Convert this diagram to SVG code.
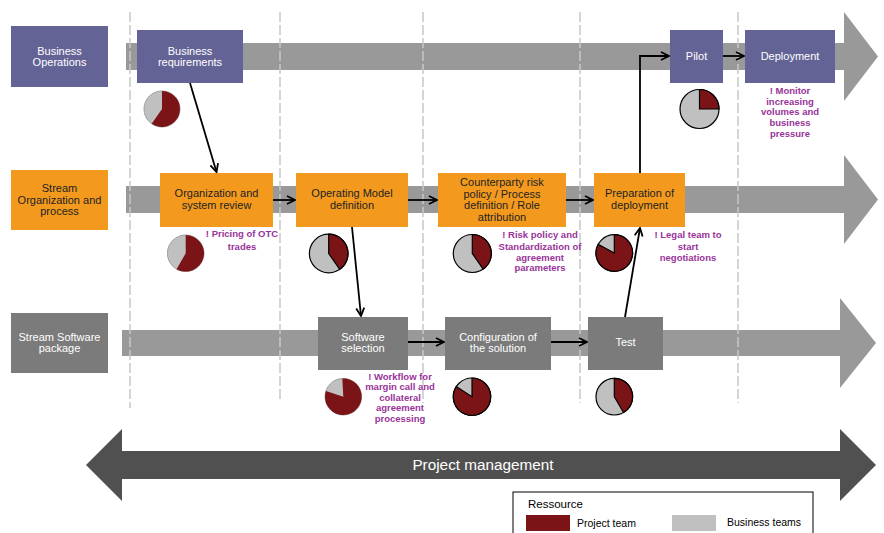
<svg xmlns="http://www.w3.org/2000/svg" width="884" height="533" viewBox="0 0 884 533">
<defs>
<style>
.band{fill:#999999}
.grid{stroke:#c8c8c8;stroke-width:1.5;stroke-dasharray:10,3;fill:none}
.pu{fill:#646395}
.or{fill:#F39A1E}
.gr{fill:#7B7B7B}
.lw{font-family:"Liberation Sans",Arial,sans-serif;font-size:11px;fill:#ffffff;text-anchor:middle}
.ld{font-family:"Liberation Sans",Arial,sans-serif;font-size:11px;fill:#222222;text-anchor:middle}
.note{font-family:"Liberation Sans",Arial,sans-serif;font-size:9.5px;font-weight:bold;fill:#993399;text-anchor:middle}
.pg{fill:#C0C0C0}
.pr{fill:#7B1416}
.pb{stroke:#000;stroke-width:1.2}
.ps{stroke:#a0a0a0;stroke-width:1}
.conn{fill:none;stroke:#000;stroke-width:1.8}
.leg{font-family:"Liberation Sans",Arial,sans-serif;fill:#000}
</style>
<marker id="ah" viewBox="0 0 10 10" refX="9" refY="5" markerWidth="10" markerHeight="10" markerUnits="userSpaceOnUse" orient="auto">
<path d="M1,1 L9,5 L1,9" fill="none" stroke="#000" stroke-width="1.8"/>
</marker>
</defs>

<g id="bands">
<polygon class="band" points="126,43 844,43 844,12 878,56.5 844,101 844,70 126,70"/>
<polygon class="band" points="126,186 844,186 844,155 878,199.5 844,244 844,213 126,213"/>
<polygon class="band" points="122,330 840,330 840,298 876,343 840,388 840,356 122,356"/>
</g>

<g id="gridlines">
<line class="grid" x1="130" y1="12" x2="130" y2="408"/>
<line class="grid" x1="280" y1="12" x2="280" y2="400"/>
<line class="grid" x1="423" y1="12" x2="423" y2="403"/>
<line class="grid" x1="580" y1="12" x2="580" y2="403"/>
<line class="grid" x1="738" y1="12" x2="738" y2="403"/>
</g>

<g id="project-management">
<polygon fill="#505050" points="86,465 122,429 122,451 840,451 840,429 876,465 840,501 840,479 122,479 122,501"/>
<text x="483" y="470" font-family="Liberation Sans, Arial, sans-serif" font-size="15.3" fill="#ffffff" text-anchor="middle">Project management</text>
</g>

<g id="row-business-operations">
<rect class="pu" x="11" y="26" width="97" height="61"/>
<text class="lw" x="59.5" y="55">Business</text>
<text class="lw" x="59.5" y="66">Operations</text>
</g>
<g id="business-requirements">
<rect class="pu" x="137" y="30" width="106" height="53"/>
<text class="lw" x="190" y="55">Business</text>
<text class="lw" x="190" y="66">requirements</text>
</g>
<g id="pilot">
<rect class="pu" x="670" y="30" width="53" height="53"/>
<text class="lw" x="696.5" y="60">Pilot</text>
</g>
<g id="deployment">
<rect class="pu" x="745" y="30" width="90" height="53"/>
<text class="lw" x="790" y="60">Deployment</text>
</g>

<g id="row-stream-organization">
<rect class="or" x="11" y="170" width="97" height="60"/>
<text class="ld" x="59.5" y="192">Stream</text>
<text class="ld" x="59.5" y="203.5">Organization and</text>
<text class="ld" x="59.5" y="215">process</text>
</g>
<g id="organization-review">
<rect class="or" x="160" y="173" width="113" height="54"/>
<text class="ld" x="216.5" y="197">Organization and</text>
<text class="ld" x="216.5" y="209">system review</text>
</g>
<g id="operating-model">
<rect class="or" x="296" y="173" width="112" height="54"/>
<text class="ld" x="352" y="197">Operating Model</text>
<text class="ld" x="352" y="209">definition</text>
</g>
<g id="counterparty-risk">
<rect class="or" x="438" y="173" width="128" height="54"/>
<text class="ld" x="502" y="186">Counterparty risk</text>
<text class="ld" x="502" y="197.5">policy / Process</text>
<text class="ld" x="502" y="209">definition / Role</text>
<text class="ld" x="502" y="220.5">attribution</text>
</g>
<g id="preparation-deployment">
<rect class="or" x="594" y="173" width="91" height="54"/>
<text class="ld" x="639.5" y="197">Preparation of</text>
<text class="ld" x="639.5" y="209">deployment</text>
</g>

<g id="row-stream-software">
<rect class="gr" x="11" y="313" width="97" height="60"/>
<text class="lw" x="59.5" y="341">Stream Software</text>
<text class="lw" x="59.5" y="352">package</text>
</g>
<g id="software-selection">
<rect class="gr" x="318" y="317" width="90" height="53"/>
<text class="lw" x="363" y="341">Software</text>
<text class="lw" x="363" y="352">selection</text>
</g>
<g id="configuration">
<rect class="gr" x="445" y="317" width="106" height="53"/>
<text class="lw" x="498" y="341">Configuration of</text>
<text class="lw" x="498" y="352">the solution</text>
</g>
<g id="test">
<rect class="gr" x="588" y="317" width="75" height="53"/>
<text class="lw" x="625.5" y="346">Test</text>
</g>

<g id="pies">
<g id="pie-business-requirements">
<circle class="pg ps" cx="162" cy="109" r="18"/>
<path class="pr" d="M162,109 L162,91 A18,18 0 1,1 151.68,123.75 Z"/>
</g>
<g id="pie-pilot">
<circle class="pg pb" cx="699.5" cy="109" r="19.5"/>
<path class="pr pb" d="M699.5,109 L699.5,89.5 A19.5,19.5 0 0,1 719,109 Z"/>
</g>
<g id="pie-organization-review">
<circle class="pg ps" cx="185.7" cy="253.3" r="18.3"/>
<path class="pr" d="M185.7,253.3 L185.7,235 A18.3,18.3 0 1,1 176.55,269.15 Z"/>
</g>
<g id="pie-operating-model">
<circle class="pg pb" cx="328.7" cy="253.5" r="19.3"/>
<path class="pr pb" d="M328.7,253.5 L328.7,234.2 A19.3,19.3 0 0,1 339.77,269.31 Z"/>
</g>
<g id="pie-counterparty">
<circle class="pg pb" cx="472.3" cy="253.5" r="19"/>
<path class="pr pb" d="M472.3,253.5 L472.3,234.5 A19,19 0 0,1 483.2,269.06 Z"/>
</g>
<g id="pie-preparation">
<circle class="pg pb" cx="614.3" cy="253" r="18.3"/>
<path class="pr pb" d="M614.3,253 L614.3,234.7 A18.3,18.3 0 1,1 598.14,244.41 Z"/>
</g>
<g id="pie-software-selection">
<circle class="pg ps" cx="343.3" cy="396.7" r="18.3"/>
<path class="pr" d="M343.3,396.7 L342.34,378.43 A18.3,18.3 0 1,1 325.9,391.05 Z"/>
</g>
<g id="pie-configuration">
<circle class="pg pb" cx="472" cy="396.7" r="18.7"/>
<path class="pr pb" d="M472,396.7 L472,378 A18.7,18.7 0 1,1 456.32,386.52 Z"/>
</g>
<g id="pie-test">
<circle class="pg pb" cx="614.3" cy="396.7" r="18.3"/>
<path class="pr pb" d="M614.3,396.7 L614.3,378.4 A18.3,18.3 0 0,1 623.45,412.55 Z"/>
</g>
</g>

<g id="connectors">
<line class="conn" x1="190" y1="83" x2="216.5" y2="172" marker-end="url(#ah)"/>
<line class="conn" x1="273" y1="200" x2="295" y2="200" marker-end="url(#ah)"/>
<line class="conn" x1="408" y1="200" x2="437" y2="200" marker-end="url(#ah)"/>
<line class="conn" x1="566" y1="200" x2="593" y2="200" marker-end="url(#ah)"/>
<line class="conn" x1="352" y1="227" x2="361" y2="316" marker-end="url(#ah)"/>
<line class="conn" x1="408" y1="342" x2="444" y2="342" marker-end="url(#ah)"/>
<line class="conn" x1="551" y1="342" x2="587" y2="342" marker-end="url(#ah)"/>
<line class="conn" x1="625" y1="317" x2="640" y2="228" marker-end="url(#ah)"/>
<path class="conn" d="M640,173 L640,56 L669,56" marker-end="url(#ah)"/>
<line class="conn" x1="723" y1="56" x2="744" y2="56" marker-end="url(#ah)"/>
</g>

<g id="notes">
<text class="note" x="790"><tspan x="790" y="93.5">! Monitor</tspan><tspan x="790" y="104.5">increasing</tspan><tspan x="790" y="115">volumes and</tspan><tspan x="790" y="126">business</tspan><tspan x="790" y="136.5">pressure</tspan></text>
<text class="note" x="242"><tspan x="242" y="237">! Pricing of OTC</tspan><tspan x="242" y="250">trades</tspan></text>
<text class="note" x="540"><tspan x="540" y="237.5">! Risk policy and</tspan><tspan x="540" y="250">Standardization of</tspan><tspan x="540" y="260.5">agreement</tspan><tspan x="540" y="270.5">parameters</tspan></text>
<text class="note" x="688"><tspan x="688" y="237.5">! Legal team to</tspan><tspan x="688" y="250">start</tspan><tspan x="688" y="260.5">negotiations</tspan></text>
<text class="note" x="400"><tspan x="400" y="379.5">! Workflow for</tspan><tspan x="400" y="390">margin call and</tspan><tspan x="400" y="400.5">collateral</tspan><tspan x="400" y="411">agreement</tspan><tspan x="400" y="421.5">processing</tspan></text>
</g>

<g id="legend">
<rect x="513" y="492" width="300" height="50" fill="#ffffff" stroke="#000" stroke-width="1"/>
<text class="leg" x="528" y="508" font-size="11.5">Ressource</text>
<rect x="526" y="515" width="44" height="16" fill="#7B1416"/>
<text class="leg" x="577" y="527" font-size="10.5">Project team</text>
<rect x="672" y="515" width="44" height="16" fill="#C0C0C0"/>
<text class="leg" x="727" y="526" font-size="10.5">Business teams</text>
</g>
</svg>
